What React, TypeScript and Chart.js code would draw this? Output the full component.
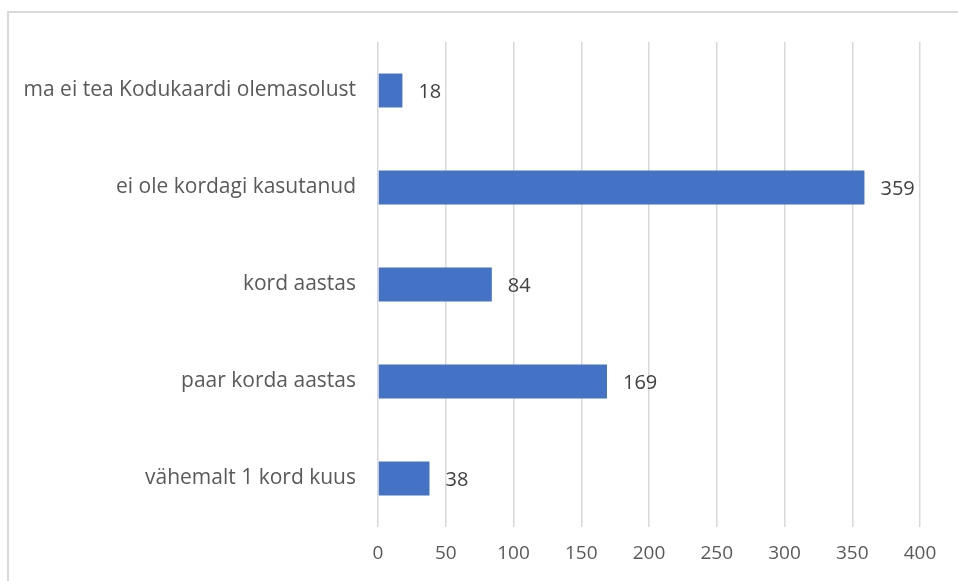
import React, { useEffect, useRef } from "react";
import { Chart, registerables } from "chart.js";

Chart.register(...registerables);

const categories = [
  "ma ei tea Kodukaardi olemasolust",
  "ei ole kordagi kasutanud",
  "kord aastas",
  "paar korda aastas",
  "vähemalt 1 kord kuus",
];
const values = [18, 359, 84, 169, 38];
const xMin = 0;
const xMax = 400;
const xStep = 50;

const FONT = "'Open Sans', Lato, sans-serif";

const dataLabels = {
  id: "dataLabels",
  afterDatasetsDraw(chart: any) {
    const { ctx } = chart;
    const meta = chart.getDatasetMeta(0);
    ctx.save();
    ctx.font = `20px ${FONT}`;
    ctx.fillStyle = "#404040";
    ctx.textAlign = "left";
    ctx.textBaseline = "middle";
    meta.data.forEach((el: any, i: number) => {
      ctx.fillText(String(values[i]), el.x + 16, el.y + 2);
    });
    ctx.restore();
  },
};

export default function App() {
  const ref = useRef<HTMLCanvasElement>(null);
  useEffect(() => {
    if (!ref.current) return;
    const chart = new Chart(ref.current, {
      type: "bar",
      data: {
        labels: categories,
        datasets: [
          {
            data: values,
            backgroundColor: "#4472C4",
            borderWidth: 0,
            barPercentage: 0.7,
            categoryPercentage: 0.5,
          },
        ],
      },
      options: {
        indexAxis: "y",
        animation: false,
        responsive: false,
        maintainAspectRatio: false,
        layout: { padding: { left: 0, top: 42, right: 38, bottom: 0 } },
        plugins: { legend: { display: false }, tooltip: { enabled: false } },
        scales: {
          x: {
            min: xMin,
            max: xMax,
            ticks: {
              stepSize: xStep,
              color: "#595959",
              font: { family: FONT, size: 19 },
              padding: 15,
            },
            grid: { color: "#d9d9d9", lineWidth: 1.5, drawTicks: false },
            border: { display: false },
            afterFit: (s: any) => {
              s.height = 54;
            },
          },
          y: {
            ticks: {
              color: "#595959",
              font: { family: FONT, size: 21 },
              padding: 22,
            },
            grid: { display: false, drawTicks: false },
            border: { display: false },
            afterFit: (s: any) => {
              s.width = 378;
            },
          },
        },
      },
      plugins: [dataLabels],
    });
    return () => chart.destroy();
  }, []);
  return (
    <div style={{ position: "fixed", left: 0, top: 0, width: 958, height: 581, background: "#fff", overflow: "hidden" }}>
      <div
        style={{
          position: "absolute",
          left: 7,
          top: 11,
          width: 1000,
          height: 700,
          borderTop: "2px solid #d9d9d9",
          borderLeft: "2px solid #d9d9d9",
        }}
      />
      <canvas ref={ref} width={958} height={581} style={{ position: "absolute", left: 0, top: 0 }} />
    </div>
  );
}
